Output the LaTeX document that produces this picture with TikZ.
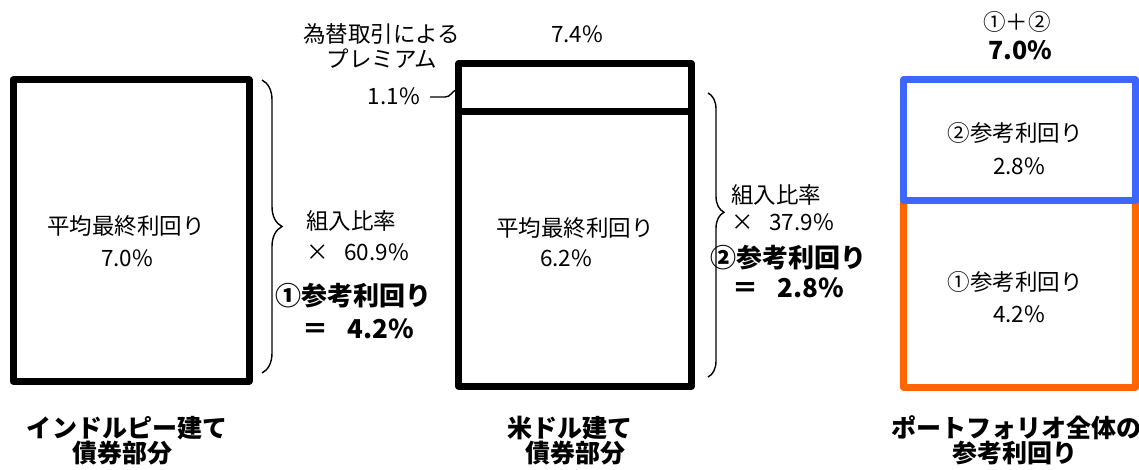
\documentclass[tikz,border=0pt]{standalone}
\usepackage{fontspec}
\setmainfont{Noto Sans CJK JP}
\usetikzlibrary{decorations.pathreplacing}
\definecolor{rblue}{RGB}{61,102,255}
\definecolor{rorange}{RGB}{255,102,0}
\tikzset{
  box/.style={draw, line width=7pt, line join=round, inner sep=0pt, outer sep=0pt},
  txt/.style={font=\fontsize{22.5}{27}\selectfont, inner sep=0pt, anchor=base},
  txtw/.style={font=\fontsize{22.5}{27}\selectfont, inner sep=0pt, anchor=base west},
  btxt/.style={font=\fontsize{26}{31}\selectfont\bfseries, inner sep=0pt, anchor=base west},
  btop/.style={font=\fontsize{25}{30}\selectfont\bfseries, inner sep=0pt, anchor=base},
  lbl/.style={font=\fontsize{25}{30}\selectfont\bfseries, inner sep=0pt, anchor=base},
  brc/.style={decorate, decoration={brace, amplitude=#1}, line width=1.4pt},
  thinline/.style={line width=1.4pt}
}
\begin{document}
\begin{tikzpicture}[x=1pt,y=-1pt]
\useasboundingbox (0,0) rectangle (1139,470);

% left box
\node[box, minimum width=236pt, minimum height=301pt] (L) at (131,230.5) {};
\node[txt] (Lt1) at (126,234.5) {平均最終利回り};
\node[txt] (Lt2) at (127,266.5) {7.0\%};

% left brace
\coordinate (b1a) at (262,80);
\coordinate (b1b) at (262,373);
\draw[brc=20pt] (b1a) -- (b1b);
\node[txtw] (k1) at (306,229.5) {組入比率};
\node[txtw] (k2) at (306,260) {×\hspace{0.7em}60.9\%};
\node[btxt] (r1) at (275,305) {①参考利回り};
\node[btxt] (r2) at (302,338) {＝\hspace{0.75em}4.2\%};

% middle box
\node[box, minimum width=233pt, minimum height=48pt] (Mt) at (575,88) {};
\node[box, minimum width=233pt, minimum height=274pt] (Mb) at (575,249) {};
\node[txt] (Mt1) at (575,236.5) {平均最終利回り};
\node[txt] (Mt2) at (566,266) {6.2\%};
\node[txt] (pr1) at (381.5,42.5) {為替取引による};
\node[txt] (pr2) at (382,68) {プレミアム};
\node[txt] (tot) at (577,43) {7.4\%};
\node[txt, anchor=base east] (p11) at (420,105) {1.1\%};
\coordinate (la) at (430,97);
\coordinate (lb) at (456,90);
\draw[thinline] (la) -- (445,97) .. controls (451,97) and (452,91) .. (lb);

% middle brace
\coordinate (b2a) at (708,93);
\coordinate (b2b) at (708,377);
\draw[brc=16pt, decoration={aspect=0.42}] (b2a) -- (b2b);
\node[txtw] (k3) at (731,203.5) {組入比率};
\node[txtw] (k4) at (731,230) {×\hspace{0.7em}37.9\%};
\node[btxt] (r3) at (710,267) {②参考利回り};
\node[btxt] (r4) at (732,297) {＝\hspace{0.75em}2.8\%};

% right box
\node[box, draw=rorange, minimum width=232pt, minimum height=186pt] (Ro) at (1019.5,294) {};
\node[box, draw=rblue, minimum width=232pt, minimum height=121pt] (Rb) at (1019.5,140.5) {};
\node[txt] (s1) at (1017,30.5) {①＋②};
\node[btop] (s2) at (1020,60) {7.0\%};
\node[txt] (rb1) at (1015,141.5) {②参考利回り};
\node[txt] (rb2) at (1019,175) {2.8\%};
\node[txt] (ro1) at (1015,290.5) {①参考利回り};
\node[txt] (ro2) at (1019,322) {4.2\%};

% bottom labels
\node[lbl] (l1a) at (127,437) {インドルピー建て};
\node[lbl] (l1b) at (122,462) {債券部分};
\node[lbl] (l2a) at (570,437) {米ドル建て};
\node[lbl] (l2b) at (575,462) {債券部分};
\node[lbl] (l3a) at (1016,437) {ポートフォリオ全体の};
\node[lbl] (l3b) at (1015,462) {参考利回り};
\end{tikzpicture}
\end{document}
